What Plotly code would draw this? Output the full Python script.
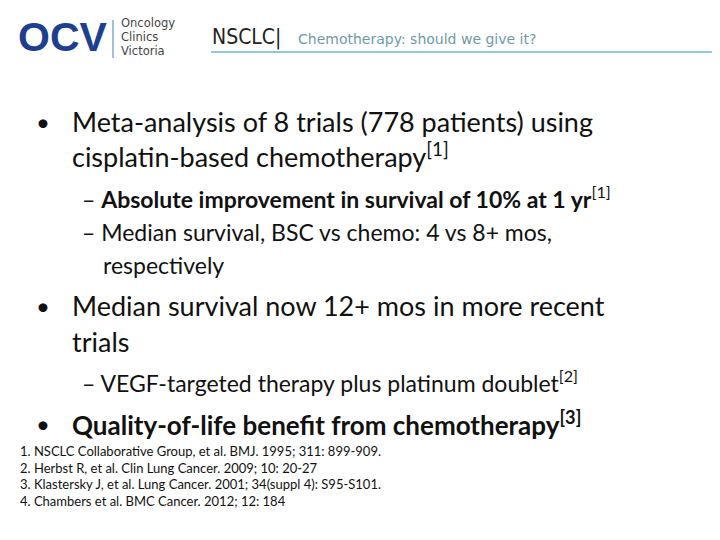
import plotly.graph_objects as go

title_main = "NSCLC|"
title_sub = "Chemotherapy: should we give it?"
logo_letters = "OCV"
logo_words = ["Oncology", "Clinics", "Victoria"]

lines = [
    (26, 122, "•", 24),
    (62, 122, "Meta-analysis of 8 trials (778 patients) using", 27),
    (62, 156, "cisplatin-based chemotherapy<sup>[1]</sup>", 27),
    (72, 198, "– <b>Absolute improvement in survival of 10% at 1 yr</b><sup>[1]</sup>", 23),
    (72, 233, "– Median survival, BSC vs chemo: 4 vs 8+ mos,", 23),
    (93, 266, "respectively", 23),
    (26, 306, "•", 24),
    (62, 306, "Median survival now 12+ mos in more recent", 27),
    (62, 342, "trials", 27),
    (72, 382, "– VEGF-targeted therapy plus platinum doublet<sup>[2]</sup>", 23),
    (26, 424, "•", 24),
    (62, 424, "<b>Quality-of-life benefit from chemotherapy<sup>[3]</sup></b>", 26),
]
refs = [
    "1. NSCLC Collaborative Group, et al. BMJ. 1995; 311: 899-909.",
    "2. Herbst R, et al. Clin Lung Cancer. 2009; 10: 20-27",
    "3. Klastersky J, et al. Lung Cancer. 2001; 34(suppl 4): S95-S101.",
    "4. Chambers et al. BMC Cancer. 2012; 12: 184",
]

DY = -9
fig = go.Figure()
F = "Lato, Open Sans, sans-serif"
ann = []
for x, y, t, s in lines:
    ann.append(dict(x=x, y=y + DY, text=t, showarrow=False, xanchor="left", yanchor="middle",
                    font=dict(family=F, size=s, color="#111111")))
for i, r in enumerate(refs):
    ann.append(dict(x=10, y=452 + i * 16.5 + DY, text=r, showarrow=False, xanchor="left", yanchor="middle",
                    font=dict(family=F, size=13, color="#111111")))
ann.append(dict(x=202, y=38 + DY, text=title_main, showarrow=False, xanchor="left", yanchor="middle",
                font=dict(family="DejaVu Sans Condensed, Liberation Sans Narrow, sans-serif", size=21, color="#222222")))
ann.append(dict(x=288, y=40 + DY, text=title_sub, showarrow=False, xanchor="left", yanchor="middle",
                font=dict(family="DejaVu Sans, sans-serif", size=14, color="#6e9aa8")))
ann.append(dict(x=8, y=38 + DY, text="<b>" + logo_letters + "</b>", showarrow=False, xanchor="left", yanchor="middle",
                font=dict(family="Liberation Sans, sans-serif", size=41, color="#1d3f8f")))
for i, w in enumerate(logo_words):
    ann.append(dict(x=111, y=24 + i * 14 + DY, text=w, showarrow=False, xanchor="left", yanchor="middle",
                    font=dict(family="DejaVu Sans, sans-serif", size=11.5, color="#444444")))
fig.update_layout(annotations=ann)
fig.add_shape(type="line", x0=105, x1=105, y0=12, y1=50, line=dict(color="#4a7fb0", width=1))
fig.add_shape(type="line", x0=203, x1=720, y0=44, y1=44, line=dict(color="#6fb1d6", width=1.5))

fig.update_xaxes(range=[0, 720], visible=False)
fig.update_yaxes(range=[540, 0], visible=False)
fig.update_layout(width=720, height=540, margin=dict(l=0, r=0, t=0, b=0),
                  plot_bgcolor="white", paper_bgcolor="white", showlegend=False)
fig.write_html("out.html")
